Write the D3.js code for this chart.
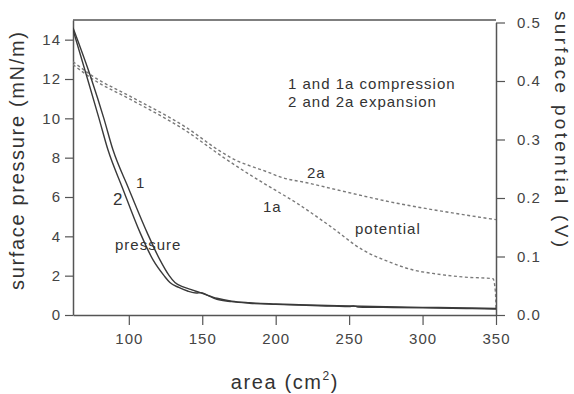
<!DOCTYPE html>
<html>
<head>
<meta charset="utf-8">
<script src="https://cdn.jsdelivr.net/npm/d3@7"></script>
<style>
  body { margin: 0; background: #fff; }
  svg { display: block; font-family: "Liberation Sans", Arial, Helvetica, sans-serif; }
</style>
</head>
<body>
<div id="chart"></div>
<script>
// axis ticks
const areaTicks = [100, 150, 200, 250, 300, 350];
const pressureTicks = [0, 2, 4, 6, 8, 10, 12, 14];
const potentialTicks = [0, 0.1, 0.2, 0.3, 0.4, 0.5];

// curve 1 : pressure, compression
const pressure1Area = [62, 74.5, 83, 89.2, 99.5, 112.4, 121.2, 127.5, 131.4, 137, 142, 150, 160, 170, 182, 200, 216, 250, 300, 330, 350];
const pressure1 = [14.6, 12.0, 10.0, 8.4, 6.5, 4.2, 2.8, 2.0, 1.65, 1.43, 1.3, 1.1, 0.85, 0.7, 0.62, 0.56, 0.52, 0.46, 0.39, 0.36, 0.33];

// curve 2 : pressure, expansion
const pressure2Area = [62, 71.9, 79.7, 85.8, 95.5, 107.6, 116.5, 124, 128, 134, 140, 146, 149, 153, 160, 170, 182, 200, 216, 240, 250, 253, 256, 280, 300, 330, 350];
const pressure2 = [14.5, 12.0, 10.0, 8.4, 6.5, 4.2, 2.8, 2.0, 1.65, 1.4, 1.22, 1.12, 1.14, 1.02, 0.8, 0.68, 0.6, 0.54, 0.5, 0.45, 0.43, 0.46, 0.41, 0.38, 0.36, 0.33, 0.3];

// curve 1a : potential, compression
const potential1Area = [62, 75.6, 100.8, 138.2, 164.1, 173.6, 191.3, 214.5, 237, 259.4, 276, 293.5, 310, 327.5, 348, 349.6, 350];
const potential1 = [0.428, 0.403, 0.369, 0.316, 0.270, 0.254, 0.226, 0.191, 0.152, 0.111, 0.092, 0.077, 0.070, 0.065, 0.062, 0.04, 0.01];

// curve 2a : potential, expansion
const potential2Area = [62, 75.6, 100.8, 138.2, 164.1, 175, 182.5, 196, 203, 221.3, 241.7, 282.6, 316.6, 350];
const potential2 = [0.433, 0.408, 0.374, 0.322, 0.277, 0.262, 0.255, 0.243, 0.236, 0.226, 0.214, 0.191, 0.176, 0.163];

const width = 574, height = 394;
const margin = { top: 20, right: 78, bottom: 79, left: 73 };
const innerW = width - margin.left - margin.right;
const innerH = height - margin.top - margin.bottom;

const svg = d3.select("#chart").append("svg")
    .attr("width", width)
    .attr("height", height);

const g = svg.append("g")
    .attr("transform", "translate(" + margin.left + "," + margin.top + ")");

const x = d3.scaleLinear().domain([62, 350]).range([0, innerW]);
const yP = d3.scaleLinear().domain([0, 15]).range([innerH, 0]);
const yV = d3.scaleLinear().domain([0, 0.5]).range([innerH, 2.5]);

const axisColor = "#555";
const textColor = "#333";

// clip for the curves
g.append("clipPath").attr("id", "plotClip")
  .append("rect").attr("width", innerW).attr("height", innerH);

// frame top
g.append("line")
    .attr("x1", 0).attr("x2", innerW).attr("y1", 0).attr("y2", 0)
    .attr("stroke", axisColor).attr("stroke-width", 1.5);

function styleAxis(sel) {
  sel.select(".domain").attr("stroke", axisColor).attr("stroke-width", 1.5);
  sel.selectAll(".tick line").attr("stroke", axisColor).attr("stroke-width", 1.2);
  sel.selectAll(".tick text")
      .attr("fill", "#444")
      .style("font-size", "15px")
      .style("letter-spacing", "1px");
}

g.append("g")
    .attr("transform", "translate(0," + innerH + ")")
    .call(d3.axisBottom(x).tickValues(areaTicks).tickSize(10).tickSizeOuter(0).tickPadding(8))
    .call(styleAxis);

g.append("g")
    .call(d3.axisLeft(yP).tickValues(pressureTicks).tickSize(8).tickSizeOuter(0).tickPadding(4))
    .call(styleAxis);

g.append("g")
    .attr("transform", "translate(" + innerW + ",0)")
    .call(d3.axisRight(yV).tickValues(potentialTicks).tickFormat(d3.format(".1f"))
      .tickSize(9).tickSizeOuter(0).tickPadding(12))
    .call(styleAxis);

// curves
const curves = g.append("g").attr("clip-path", "url(#plotClip)");

function drawPressure(areas, values) {
  const line = d3.line()
      .x((d, i) => x(areas[i]))
      .y(d => yP(d))
      .curve(d3.curveMonotoneX);
  curves.append("path")
      .datum(values)
      .attr("d", line)
      .attr("fill", "none")
      .attr("stroke", "#3a3a3a")
      .attr("stroke-width", 1.4);
}

function drawPotential(areas, values) {
  const line = d3.line()
      .x((d, i) => x(areas[i]))
      .y(d => yV(d))
      .curve(d3.curveMonotoneX);
  curves.append("path")
      .datum(values)
      .attr("d", line)
      .attr("fill", "none")
      .attr("stroke", "#7a7a7a")
      .attr("stroke-width", 1.4)
      .attr("stroke-dasharray", "3,2.5");
}

drawPotential(potential2Area, potential2);
drawPotential(potential1Area, potential1);
drawPressure(pressure2Area, pressure2);
drawPressure(pressure1Area, pressure1);

// labels inside the plot (positions in data units)
function label(txt, ax, yScale, val, size) {
  g.append("text")
      .attr("x", x(ax))
      .attr("y", yScale(val))
      .attr("fill", textColor)
      .style("font-size", (size || 15) + "px")
      .style("letter-spacing", "1px")
      .text(txt);
}

label("1 and 1a compression", 208.4, yP, 11.5, 15);
label("2 and 2a expansion", 208.4, yP, 10.59, 15);
label("2a", 221.3, yV, 0.234);
label("1a", 191.3, yV, 0.176);
label("potential", 254, yV, 0.138);
label("1", 104.9, yP, 6.47);
label("2", 89.2, yP, 5.6, 17);
label("pressure", 90.6, yP, 3.3);

// axis titles
svg.append("text")
    .attr("transform", "translate(24,161) rotate(-90)")
    .attr("text-anchor", "middle")
    .attr("fill", textColor)
    .attr("textLength", 258)
    .attr("lengthAdjust", "spacing")
    .style("font-size", "20px")
    .text("surface pressure (mN/m)");

svg.append("text")
    .attr("transform", "translate(555,129) rotate(90)")
    .attr("text-anchor", "middle")
    .attr("fill", textColor)
    .attr("textLength", 236)
    .attr("lengthAdjust", "spacing")
    .style("font-size", "19px")
    .text("surface potential (V)");

const xTitle = svg.append("text")
    .attr("x", 285)
    .attr("y", 389)
    .attr("text-anchor", "middle")
    .attr("fill", textColor)
    .style("font-size", "20px")
    .style("letter-spacing", "1.6px");
xTitle.append("tspan").text("area (cm");
xTitle.append("tspan").attr("dy", -9).style("font-size", "12px").text("2");
xTitle.append("tspan").attr("dy", 9).text(")");
</script>
</body>
</html>
